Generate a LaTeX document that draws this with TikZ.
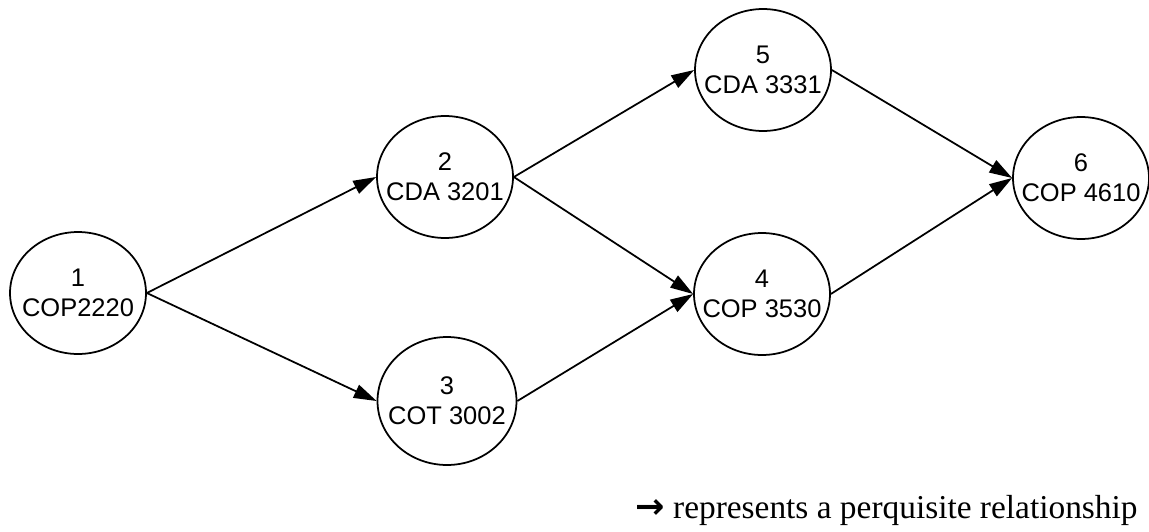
\documentclass[tikz,border=0pt]{standalone}
\usepackage{fontspec}
\setmainfont{Liberation Serif}
\newfontfamily\coursefont{Liberation Sans}
\newfontfamily\arrowfont{DejaVu Sans}
\usetikzlibrary{arrows.meta,shapes.geometric}

\begin{document}
\begin{tikzpicture}[x=0.02cm,y=-0.02cm,
course/.style={ellipse,draw,line width=1pt,minimum width=2.72cm,minimum height=2.44cm,inner xsep=-0.45cm,inner ysep=0pt,align=center,font=\coursefont\fontsize{14.5}{17}\selectfont},
prereq/.style={-{Triangle[length=13pt,width=8pt]},line width=1pt}]
\useasboundingbox (0,0) rectangle (1149,531);
\node[course] (c1) at (78,293) {1\\COP2220};
\node[course] (c2) at (445,177) {2\\CDA 3201};
\node[course,minimum width=2.78cm,minimum height=2.56cm] (c3) at (447,401) {3\\COT 3002};
\node[course] (c4) at (762,294) {4\\COP 3530};
\node[course] (c5) at (763,70) {5\\CDA 3331};
\node[course] (c6) at (1081,178) {6\\COP 4610};
\draw[prereq] (c1.east) -- (c2.west);
\draw[prereq] (c1.east) -- (c3.west);
\draw[prereq] (c2.east) -- (c5.west);
\draw[prereq] (c2.east) -- (c4.west);
\draw[prereq] (c3.east) -- (c4.west);
\draw[prereq] (c5.east) -- (c6.west);
\draw[prereq] (c4.east) -- (c6.west);
\node[anchor=west,inner sep=0pt,font=\fontsize{19}{22}\selectfont] (legend) at (635,510) {{\arrowfont\bfseries\fontsize{20}{22}\selectfont →} represents a perquisite relationship};
\end{tikzpicture}
\end{document}
